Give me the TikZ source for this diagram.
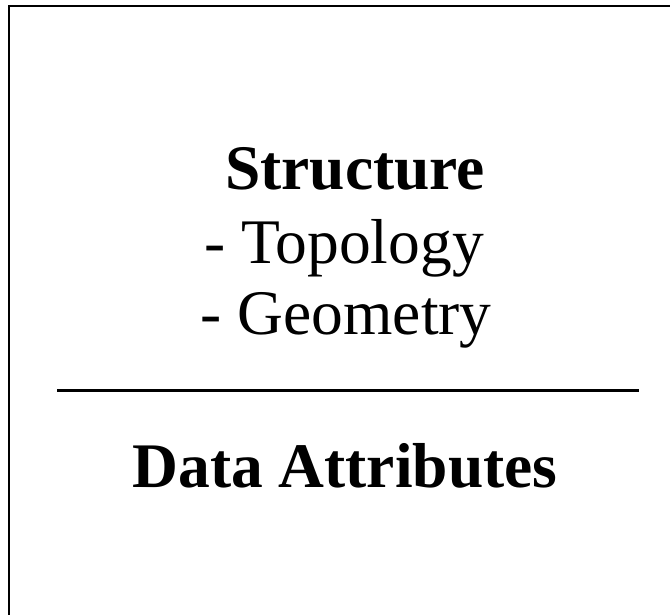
\documentclass[tikz,border=0pt]{standalone}
\usepackage{fontspec}
\setmainfont{Liberation Serif}
\begin{document}
\begin{tikzpicture}[x=1pt,y=-1pt,line width=0.4pt]
\providecommand{\fbig}{\fontsize{63.5}{70}\selectfont}
\useasboundingbox (0.00,0.00) rectangle (670.00,615.00);
\clip (0.00,0.00) rectangle (670.00,615.00);
\fill[white] (0.00,0.00) rectangle (670.00,615.00);
\draw[draw=black,line width=2pt] (9.00,6.00) rectangle (690.00,640.00);
\node[anchor=base,inner sep=0pt,font=\fbig\bfseries] (structure) at (355.00,190.00) {Structure};
\node[anchor=base west,inner sep=0pt,font=\fbig] (topology) at (204.00,263.00) {- Topology};
\node[anchor=base west,inner sep=0pt,font=\fbig] (geometry) at (200.50,334.00) {- Geometry};
\coordinate (rulel) at (57.00,390.50);
\coordinate (ruler) at (639.00,390.50);
\draw[draw=black,line width=3pt] (rulel) -- (ruler);
\node[anchor=base,inner sep=0pt,font=\fbig\bfseries] (attrib) at (345.00,487.00) {Data Attributes};
\end{tikzpicture}
\end{document}
